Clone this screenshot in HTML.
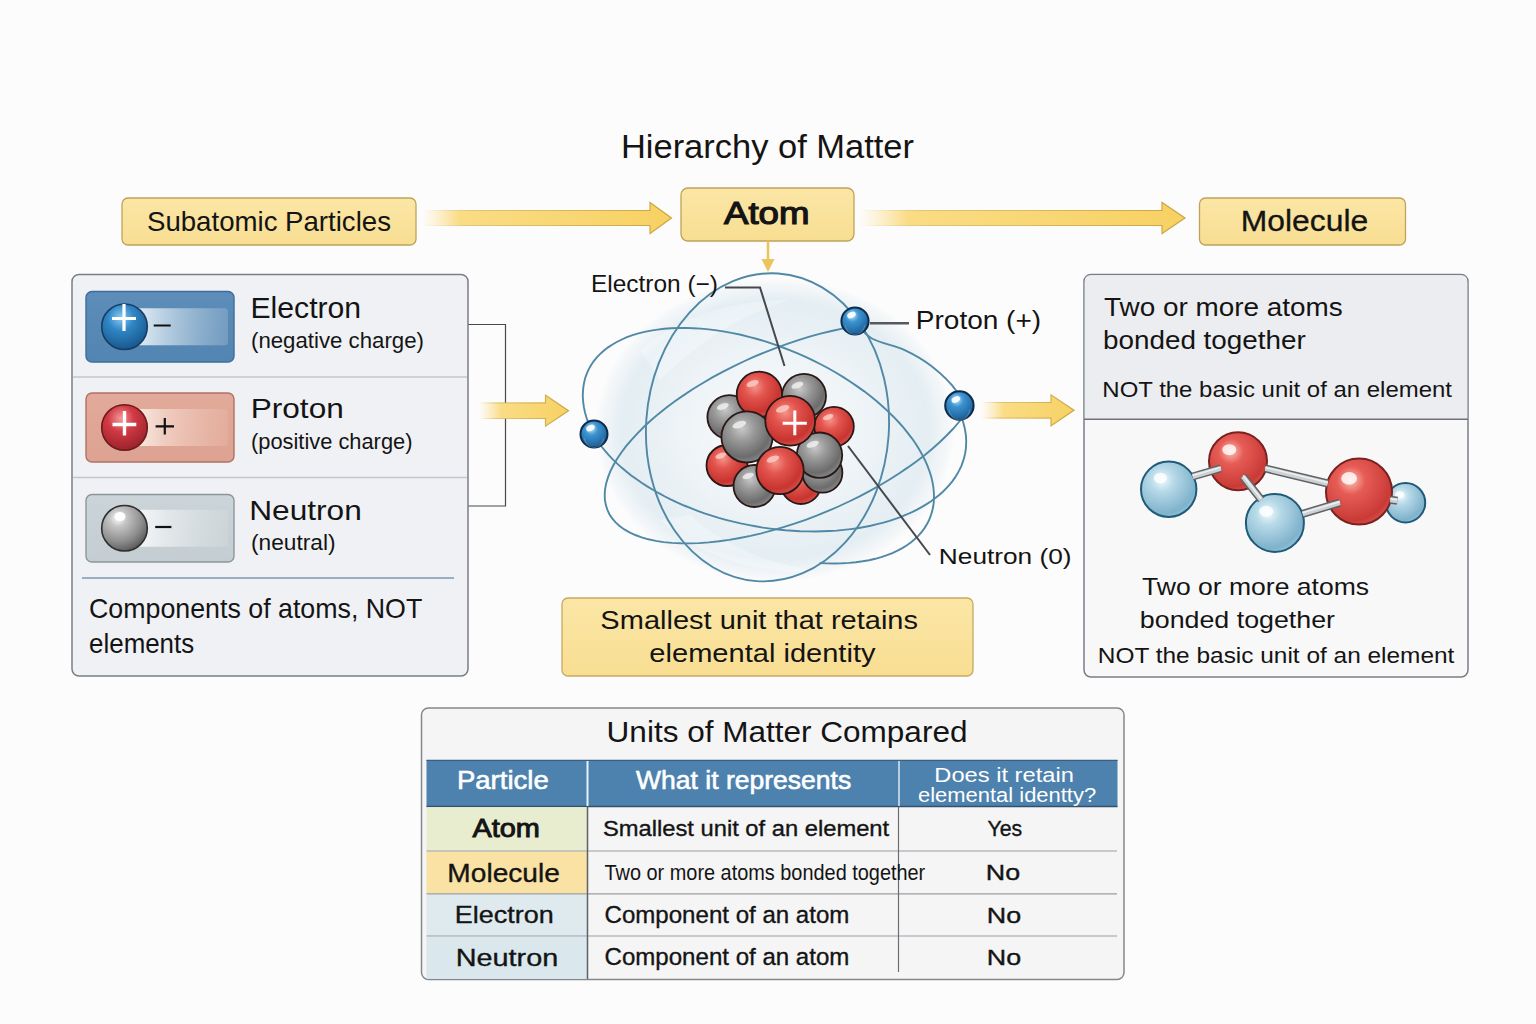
<!DOCTYPE html>
<html><head><meta charset='utf-8'><title>Hierarchy of Matter</title>
<style>html,body{margin:0;padding:0;background:#FDFCFC;overflow:hidden;width:1536px;height:1024px;} svg{display:block;}</style>
</head><body>
<svg width='1536' height='1024' viewBox='0 0 1536 1024' font-family="'Liberation Sans', sans-serif">
<defs>
 <linearGradient id='yel' x1='0' y1='0' x2='0' y2='1'><stop offset='0' stop-color='#FBE6A6'/><stop offset='1' stop-color='#F8DE92'/></linearGradient>
 <linearGradient id='arr' x1='0' y1='0' x2='1' y2='0'><stop offset='0' stop-color='#FBE3A0' stop-opacity='0'/><stop offset='0.15' stop-color='#FADC85' stop-opacity='1'/><stop offset='1' stop-color='#F7D163'/></linearGradient><linearGradient id='arr2' x1='0' y1='0' x2='1' y2='0'><stop offset='0' stop-color='#FBE3A0' stop-opacity='0'/><stop offset='0.25' stop-color='#FADC85' stop-opacity='1'/><stop offset='1' stop-color='#F7D163'/></linearGradient>
 <linearGradient id='arrS' x1='0' y1='0' x2='1' y2='0'><stop offset='0' stop-color='#D9B550' stop-opacity='0'/><stop offset='0.2' stop-color='#D9B550' stop-opacity='0.7'/><stop offset='1' stop-color='#C9A540'/></linearGradient>
 <linearGradient id='badgeB' x1='0' y1='0' x2='0' y2='1'><stop offset='0' stop-color='#5D8DB8'/><stop offset='1' stop-color='#5385B2'/></linearGradient>
 <linearGradient id='barB' x1='0' y1='0' x2='1' y2='0'><stop offset='0' stop-color='#F2F7FB' stop-opacity='0.95'/><stop offset='0.3' stop-color='#CFE0EC' stop-opacity='0.85'/><stop offset='1' stop-color='#9DBAD3' stop-opacity='0.4'/></linearGradient>
 <linearGradient id='badgeR' x1='0' y1='0' x2='0' y2='1'><stop offset='0' stop-color='#E2AA9A'/><stop offset='1' stop-color='#DDA291'/></linearGradient>
 <linearGradient id='barR' x1='0' y1='0' x2='1' y2='0'><stop offset='0' stop-color='#FCF2EC' stop-opacity='0.95'/><stop offset='0.35' stop-color='#F2D3C7' stop-opacity='0.85'/><stop offset='1' stop-color='#E9B8A8' stop-opacity='0.4'/></linearGradient>
 <linearGradient id='badgeG' x1='0' y1='0' x2='0' y2='1'><stop offset='0' stop-color='#CBD4D8'/><stop offset='1' stop-color='#C4CDD1'/></linearGradient>
 <linearGradient id='barG' x1='0' y1='0' x2='1' y2='0'><stop offset='0' stop-color='#FBFCFC' stop-opacity='0.95'/><stop offset='0.35' stop-color='#E8EDEF' stop-opacity='0.85'/><stop offset='1' stop-color='#D4DBDE' stop-opacity='0.4'/></linearGradient>
 <radialGradient id='ballB' cx='0.42' cy='0.3' r='0.72'><stop offset='0' stop-color='#8CCBF0'/><stop offset='0.4' stop-color='#2F86C4'/><stop offset='1' stop-color='#17568C'/></radialGradient>
 <radialGradient id='ballR' cx='0.42' cy='0.3' r='0.72'><stop offset='0' stop-color='#F49A9A'/><stop offset='0.4' stop-color='#D23A44'/><stop offset='1' stop-color='#98222A'/></radialGradient>
 <radialGradient id='ballG' cx='0.36' cy='0.28' r='0.75'><stop offset='0' stop-color='#FFFFFF'/><stop offset='0.25' stop-color='#C4C4C4'/><stop offset='0.7' stop-color='#8C8C8C'/><stop offset='1' stop-color='#5A5A5A'/></radialGradient>
 <radialGradient id='nR' cx='0.4' cy='0.33' r='0.7'><stop offset='0' stop-color='#F5938A'/><stop offset='0.35' stop-color='#E2544D'/><stop offset='0.8' stop-color='#C8342F'/><stop offset='1' stop-color='#D8544C'/></radialGradient>
 <radialGradient id='nG' cx='0.4' cy='0.33' r='0.7'><stop offset='0' stop-color='#C9C9C9'/><stop offset='0.35' stop-color='#9A9A9A'/><stop offset='0.8' stop-color='#6C6C6C'/><stop offset='1' stop-color='#8A8A8A'/></radialGradient>
 <radialGradient id='mB' cx='0.38' cy='0.33' r='0.72'><stop offset='0' stop-color='#F2FAFD'/><stop offset='0.3' stop-color='#B6D9E8'/><stop offset='0.85' stop-color='#7FB2CB'/><stop offset='1' stop-color='#93C2D8'/></radialGradient>
 <radialGradient id='mR' cx='0.38' cy='0.33' r='0.72'><stop offset='0' stop-color='#FAC0B6'/><stop offset='0.3' stop-color='#E65C55'/><stop offset='0.85' stop-color='#C93A36'/><stop offset='1' stop-color='#D9534D'/></radialGradient>
 <radialGradient id='eB' cx='0.4' cy='0.3' r='0.7'><stop offset='0' stop-color='#BFE6FA'/><stop offset='0.35' stop-color='#3C93D0'/><stop offset='1' stop-color='#1B5F98'/></radialGradient>
 <radialGradient id='sph' cx='0.5' cy='0.5' r='0.5'><stop offset='0' stop-color='#F1F6F9' stop-opacity='0.3'/><stop offset='0.5' stop-color='#E6EFF4' stop-opacity='0.65'/><stop offset='0.85' stop-color='#DFEBF1' stop-opacity='0.85'/><stop offset='0.97' stop-color='#DFEBF1' stop-opacity='0.25'/><stop offset='1' stop-color='#DFEBF1' stop-opacity='0'/></radialGradient>
</defs>
<rect width='1536' height='1024' fill='#FDFCFC'/>
<text x='620.91' y='158' font-size='33' font-weight='400' fill='#141414' textLength='293.08' lengthAdjust='spacingAndGlyphs' >Hierarchy of Matter</text>
<rect x='122' y='198' width='294' height='47' rx='6' fill='url(#yel)' stroke='#BFA358' stroke-width='1.3'/>
<text x='147.01' y='230.5' font-size='28' font-weight='400' fill='#141414' textLength='243.97' lengthAdjust='spacingAndGlyphs' >Subatomic Particles</text>
<rect x='681' y='188' width='173' height='53' rx='7' fill='url(#yel)' stroke='#BFA358' stroke-width='1.3'/>
<text x='724.00' y='224.4' font-size='31.5' font-weight='400' fill='#141414' textLength='85.44' lengthAdjust='spacingAndGlyphs' stroke='#141414' stroke-width='1.2'>Atom</text>
<rect x='1199.5' y='198' width='206' height='47' rx='6' fill='url(#yel)' stroke='#BFA358' stroke-width='1.3'/>
<text x='1240.80' y='231' font-size='29' font-weight='400' fill='#141414' textLength='127.44' lengthAdjust='spacingAndGlyphs' stroke='#141414' stroke-width='0.3'>Molecule</text>
<path d='M468,324.5 H505.5 V506 H468' fill='none' stroke='#46494E' stroke-width='1.2'/>
<path d='M422,210.5 L650,210.5 L650,202.5 L671.5,218 L650,233.5 L650,225.5 L422,225.5 Z' fill='url(#arr)' stroke='url(#arrS)' stroke-width='1.2' stroke-linejoin='miter'/>
<path d='M859,210.5 L1162,210.5 L1162,202.5 L1185,218 L1162,233.5 L1162,225.5 L859,225.5 Z' fill='url(#arr)' stroke='url(#arrS)' stroke-width='1.2' stroke-linejoin='miter'/>
<path d='M479,402.9 L545.5,402.9 L545.5,395.2 L568.5,410.7 L545.5,426.2 L545.5,418.5 L479,418.5 Z' fill='url(#arr2)' stroke='url(#arrS)' stroke-width='1.2' stroke-linejoin='miter'/>
<path d='M981,402.5 L1051,402.5 L1051,394.8 L1074,410.3 L1051,425.8 L1051,418.1 L981,418.1 Z' fill='url(#arr2)' stroke='url(#arrS)' stroke-width='1.2' stroke-linejoin='miter'/>
<line x1='768' y1='241' x2='768' y2='262' stroke='#EBC55A' stroke-width='2.5'/>
<path d='M761.5,259 L774.5,259 L768,272 Z' fill='#EBC55A'/>
<rect x='72' y='274.5' width='396' height='401.5' rx='7' fill='#F0F1F4' stroke='#7A7E85' stroke-width='1.5'/>
<line x1='73' y1='377' x2='467' y2='377' stroke='#C3C7CE' stroke-width='1.5'/>
<line x1='73' y1='477.5' x2='467' y2='477.5' stroke='#C3C7CE' stroke-width='1.5'/>
<line x1='82' y1='578' x2='454' y2='578' stroke='#98AEC4' stroke-width='2'/>
<rect x='86' y='291.5' width='148' height='70.5' rx='6' fill='url(#badgeB)' stroke='#3E6D98' stroke-width='1.4'/>
<rect x='132' y='308.25' width='96' height='37' rx='3' fill='url(#barB)'/>
<circle cx='124.5' cy='326.75' r='22.8' fill='url(#ballB)' stroke='#163E66' stroke-width='1.6'/>
<rect x='86' y='393' width='148' height='69' rx='6' fill='url(#badgeR)' stroke='#AF7263' stroke-width='1.4'/>
<rect x='132' y='409.0' width='96' height='37' rx='3' fill='url(#barR)'/>
<circle cx='124.5' cy='427.5' r='22.8' fill='url(#ballR)' stroke='#6E1A1E' stroke-width='1.6'/>
<rect x='86' y='494.5' width='148' height='67.5' rx='6' fill='url(#badgeG)' stroke='#8C979B' stroke-width='1.4'/>
<rect x='132' y='509.75' width='96' height='37' rx='3' fill='url(#barG)'/>
<circle cx='124.5' cy='528.25' r='22.8' fill='url(#ballG)' stroke='#2E2E2E' stroke-width='1.6'/>
<path d='M124,304 V331 M112,318.5 H136' stroke='#FFFFFF' stroke-width='3.2'/>
<path d='M124.5,411 V435.5 M112.5,424.5 H136.3' stroke='#FFFFFF' stroke-width='3.4'/>
<ellipse cx='120' cy='516.5' rx='5.5' ry='4.5' fill='#FFFFFF' opacity='0.95'/>
<line x1='153.7' y1='325.5' x2='170.7' y2='325.5' stroke='#111' stroke-width='2'/>
<path d='M164.8,418 V434.6 M155.6,426.3 H174' stroke='#111' stroke-width='2.2'/>
<line x1='155.2' y1='527' x2='171.4' y2='527' stroke='#111' stroke-width='2.2'/>
<text x='250.42' y='318' font-size='29' font-weight='400' fill='#141414' textLength='110.76' lengthAdjust='spacingAndGlyphs' >Electron</text>
<text x='251.01' y='348' font-size='22.5' font-weight='400' fill='#141414' textLength='172.97' lengthAdjust='spacingAndGlyphs' >(negative charge)</text>
<text x='250.74' y='418' font-size='28' font-weight='400' fill='#141414' textLength='93.03' lengthAdjust='spacingAndGlyphs' >Proton</text>
<text x='251.03' y='449' font-size='22.5' font-weight='400' fill='#141414' textLength='161.45' lengthAdjust='spacingAndGlyphs' >(positive charge)</text>
<text x='249.24' y='520' font-size='28' font-weight='400' fill='#141414' textLength='112.54' lengthAdjust='spacingAndGlyphs' >Neutron</text>
<text x='250.99' y='550' font-size='22.5' font-weight='400' fill='#141414' textLength='84.51' lengthAdjust='spacingAndGlyphs' >(neutral)</text>
<text x='89.03' y='617.5' font-size='27.5' font-weight='400' fill='#141414' textLength='333.28' lengthAdjust='spacingAndGlyphs' >Components of atoms, NOT</text>
<text x='89.06' y='653' font-size='27.5' font-weight='400' fill='#141414' textLength='105.15' lengthAdjust='spacingAndGlyphs' >elements</text>
<rect x='1084' y='274.5' width='384' height='402.5' rx='7' fill='#F8F8F9' stroke='#7A7E85' stroke-width='1.5'/>
<path d='M1084.75,419 V281.5 Q1084.75,275.25 1091,275.25 H1461 Q1467.25,275.25 1467.25,281.5 V419 Z' fill='#ECEDF1'/>
<line x1='1084' y1='419.2' x2='1468' y2='419.2' stroke='#6F7279' stroke-width='1.4'/>
<text x='1104.00' y='316' font-size='26.5' font-weight='400' fill='#141414' textLength='238.76' lengthAdjust='spacingAndGlyphs' >Two or more atoms</text>
<text x='1102.95' y='349' font-size='26.5' font-weight='400' fill='#141414' textLength='202.87' lengthAdjust='spacingAndGlyphs' >bonded together</text>
<text x='1102.39' y='396.5' font-size='21.5' font-weight='400' fill='#141414' textLength='349.58' lengthAdjust='spacingAndGlyphs' >NOT the basic unit of an element</text>
<text x='1142.00' y='594.6' font-size='24' font-weight='400' fill='#141414' textLength='227.00' lengthAdjust='spacingAndGlyphs' >Two or more atoms</text>
<text x='1139.88' y='628.3' font-size='24' font-weight='400' fill='#141414' textLength='195.11' lengthAdjust='spacingAndGlyphs' >bonded together</text>
<text x='1097.85' y='662.6' font-size='21.3' font-weight='400' fill='#141414' textLength='356.55' lengthAdjust='spacingAndGlyphs' >NOT the basic unit of an element</text>
<circle cx='1405.5' cy='502.7' r='19.7' fill='url(#mB)' stroke='#1F5A78' stroke-width='2'/><ellipse cx='1399.6' cy='494.8' rx='4.7' ry='3.7' fill='#fff' opacity='0.8'/>
<circle cx='1168.7' cy='489.2' r='27.7' fill='url(#mB)' stroke='#1F5A78' stroke-width='2'/><ellipse cx='1160.4' cy='478.1' rx='6.6' ry='5.3' fill='#fff' opacity='0.8'/>
<circle cx='1238' cy='461.3' r='29' fill='url(#mR)' stroke='#7A2222' stroke-width='2'/><ellipse cx='1229.3' cy='449.7' rx='7.0' ry='5.5' fill='#fff' opacity='0.8'/>
<circle cx='1274.9' cy='522.9' r='29' fill='url(#mB)' stroke='#1F5A78' stroke-width='2'/><ellipse cx='1266.2' cy='511.3' rx='7.0' ry='5.5' fill='#fff' opacity='0.8'/>
<circle cx='1359' cy='491.6' r='33' fill='url(#mR)' stroke='#7A2222' stroke-width='2'/><ellipse cx='1349.1' cy='478.4' rx='7.9' ry='6.3' fill='#fff' opacity='0.8'/>
<line x1='1192.6' y1='476.5' x2='1220.8' y2='468.4' stroke='#5E6367' stroke-width='8' stroke-linecap='butt'/><line x1='1192.6' y1='476.5' x2='1220.8' y2='468.4' stroke='#CDD1D4' stroke-width='5' stroke-linecap='butt'/><line x1='1192.6' y1='475.5' x2='1220.8' y2='467.4' stroke='#EEF0F1' stroke-width='1.5'/>
<line x1='1265.2' y1='468.4' x2='1327.8' y2='483.5' stroke='#5E6367' stroke-width='8' stroke-linecap='butt'/><line x1='1265.2' y1='468.4' x2='1327.8' y2='483.5' stroke='#CDD1D4' stroke-width='5' stroke-linecap='butt'/><line x1='1265.2' y1='467.4' x2='1327.8' y2='482.5' stroke='#EEF0F1' stroke-width='1.5'/>
<line x1='1243' y1='476.5' x2='1261.2' y2='499.7' stroke='#5E6367' stroke-width='8' stroke-linecap='butt'/><line x1='1243' y1='476.5' x2='1261.2' y2='499.7' stroke='#CDD1D4' stroke-width='5' stroke-linecap='butt'/><line x1='1243' y1='475.5' x2='1261.2' y2='498.7' stroke='#EEF0F1' stroke-width='1.5'/>
<line x1='1302.6' y1='513.8' x2='1339.9' y2='502.7' stroke='#5E6367' stroke-width='8' stroke-linecap='butt'/><line x1='1302.6' y1='513.8' x2='1339.9' y2='502.7' stroke='#CDD1D4' stroke-width='5' stroke-linecap='butt'/><line x1='1302.6' y1='512.8' x2='1339.9' y2='501.7' stroke='#EEF0F1' stroke-width='1.5'/>
<line x1='1390.3' y1='499.7' x2='1397.4' y2='500.7' stroke='#5E6367' stroke-width='8' stroke-linecap='butt'/><line x1='1390.3' y1='499.7' x2='1397.4' y2='500.7' stroke='#CDD1D4' stroke-width='5' stroke-linecap='butt'/><line x1='1390.3' y1='498.7' x2='1397.4' y2='499.7' stroke='#EEF0F1' stroke-width='1.5'/>
<ellipse cx='775' cy='430' rx='180' ry='152' fill='url(#sph)'/>
<path d='M640,350 Q700,300 790,300 Q720,320 660,380 Z' fill='#FFFFFF' opacity='0.3'/>
<path d='M660,520 Q720,575 820,572 Q740,560 690,515 Z' fill='#FFFFFF' opacity='0.3'/>
<ellipse cx='767.5' cy='427.3' rx='121.4' ry='154.2' transform='rotate(4.01 767.5 427.3)' fill='none' stroke='#5088A6' stroke-width='1.9'/>
<path d='M852.9,326.7 L842.3,328.6 L831.5,331.0 L820.5,333.7 L809.5,336.7 L798.4,340.1 L787.3,343.8 L776.3,347.8 L765.3,352.1 L754.3,356.7 L743.6,361.5 L733.0,366.6 L722.6,371.9 L712.4,377.4 L702.5,383.2 L693.0,389.0 L683.8,395.1 L674.9,401.2 L666.5,407.5 L658.5,413.9 L651.0,420.3 L644.0,426.8 L637.5,433.3 L631.5,439.8 L626.1,446.2 L621.2,452.7 L617.0,459.0 L613.4,465.3 L610.3,471.4 L608.0,477.4 L606.2,483.3 L605.1,489.0 L604.7,494.5 L604.9,499.8 L605.8,504.8 L607.3,509.6 L609.4,514.2 L612.2,518.4 L615.6,522.4 L619.6,526.0 L624.3,529.4 L629.5,532.4 L635.3,535.0 L641.6,537.3 L648.4,539.3 L655.8,540.9 L663.6,542.1 L671.9,542.9 L680.6,543.3 L689.6,543.4 L699.1,543.1 L708.9,542.4 L718.9,541.3 L729.2,539.9 L739.8,538.0 L750.5,535.9 L761.4,533.3 L772.3,530.4 L783.4,527.2 L794.5,523.7 L805.6,519.8 L816.6,515.7 L827.6,511.2 L838.4,506.5 L849.1,501.5 L859.6,496.3 L869.9,490.9 L879.9,485.3 L889.6,479.5 L899.0,473.5 L908.0,467.4 L916.7,461.2 L924.9,454.9 L932.6,448.5 L939.9,442.0 L946.6,435.5 L952.9,429.0 L958.5,422.5 L963.7,416.1 L968.2,409.7 L972.1,403.4' fill='none' stroke='#5088A6' stroke-width='1.9'/>
<path d='M855.5,322.0 C858.2,324.8 863.7,333.8 871.9,338.5 C880.1,343.2 894.7,345.5 904.7,350.2 C914.7,354.9 923.4,359.8 932.0,366.6 C940.6,373.4 952.0,384.7 956.6,391.2 C961.2,397.7 958.9,403.1 959.4,405.5' fill='none' stroke='#5088A6' stroke-width='1.9'/>
<path d='M593.1,434.1 L595.8,438.4 L598.7,442.7 L601.9,447.0 L605.3,451.2 L609.0,455.4 L613.0,459.6 L617.2,463.6 L621.6,467.6 L626.3,471.5 L631.2,475.4 L636.3,479.1 L641.6,482.8 L647.2,486.4 L652.9,489.8 L658.8,493.2 L664.9,496.5 L671.1,499.6 L677.5,502.6 L684.1,505.5 L690.8,508.2 L697.6,510.8 L704.5,513.3 L711.6,515.6 L718.7,517.8 L725.9,519.8 L733.2,521.7 L740.6,523.4 L748.0,524.9 L755.4,526.3 L762.9,527.6 L770.4,528.6 L777.9,529.5 L785.4,530.3 L792.9,530.8 L800.3,531.2 L807.7,531.4 L815.1,531.5 L822.4,531.3 L829.6,531.0 L836.7,530.6 L843.7,529.9 L850.7,529.1 L857.5,528.2 L864.2,527.0 L870.7,525.7 L877.1,524.2 L883.4,522.6 L889.5,520.8 L895.4,518.9 L901.1,516.8 L906.6,514.5 L912.0,512.1 L917.1,509.6 L922.0,506.9 L926.6,504.1 L931.1,501.2 L935.3,498.1 L939.2,495.0 L942.9,491.7 L946.4,488.2 L949.6,484.7 L952.5,481.1 L955.1,477.4 L957.5,473.6 L959.6,469.7 L961.4,465.8 L962.9,461.7 L964.2,457.6 L965.1,453.5 L965.8,449.3 L966.1,445.0 L966.2,440.7 L966.0,436.4 L965.4,432.0 L964.6,427.7 L963.5,423.3 L962.1,418.9 L960.5,414.5 L958.5,410.1 L956.3,405.7' fill='none' stroke='#5088A6' stroke-width='1.9'/>
<path d='M593.2,433.9 L590.6,428.5 L588.4,423.1 L586.5,417.7 L585.0,412.4 L583.9,407.2 L583.2,402.1 L582.8,397.0 L582.9,392.1 L583.3,387.3 L584.1,382.6 L585.2,378.0 L586.8,373.6 L588.7,369.4 L591.0,365.3 L593.6,361.3 L596.6,357.6 L600.0,354.1 L603.7,350.7 L607.7,347.6 L612.1,344.7 L616.8,342.0 L621.8,339.5 L627.0,337.2 L632.6,335.2 L638.4,333.4 L644.5,331.9 L650.9,330.6 L657.5,329.6 L664.2,328.8 L671.2,328.2 L678.4,328.0 L685.8,327.9 L693.3,328.2 L701.0,328.6 L708.8,329.4 L716.6,330.4 L724.6,331.6 L732.7,333.1 L740.8,334.8 L748.9,336.8 L757.1,339.0 L765.3,341.4 L773.4,344.1 L781.6,347.0 L789.6,350.1 L797.6,353.4 L805.6,356.9 L813.4,360.6 L821.1,364.5 L828.7,368.5 L836.1,372.8 L843.3,377.1 L850.4,381.7 L857.2,386.4 L863.9,391.1 L870.3,396.1 L876.5,401.1 L882.4,406.2 L888.0,411.4 L893.4,416.7 L898.5,422.0 L903.3,427.4 L907.7,432.9 L911.9,438.3 L915.7,443.8 L919.1,449.3 L922.2,454.8 L925.0,460.2 L927.4,465.6 L929.4,471.0 L931.1,476.3 L932.4,481.6 L933.3,486.8 L933.8,491.9 L934.0,496.9 L933.8,501.8 L933.2,506.5 L932.2,511.1 L930.8,515.6 L929.1,520.0 L927.0,524.1 L924.5,528.1 L921.7,532.0 L918.5,535.6 L914.9,539.0 L911.1,542.3 L906.9,545.3 L902.3,548.1 L897.5,550.7 L892.4,553.1 L887.0,555.2 L881.2,557.1 L875.3,558.8 L869.0,560.2 L862.6,561.3 L855.9,562.2 L849.0,562.9 L841.9,563.3 L834.6,563.5 L827.2,563.4 L819.6,563.0' fill='none' stroke='#5088A6' stroke-width='1.9'/>
<path d='M725,287.5 H760 L784.5,366' fill='none' stroke='#45484D' stroke-width='2'/>
<line x1='870' y1='323.3' x2='909' y2='323.3' stroke='#55585D' stroke-width='2.4'/>
<line x1='848' y1='446' x2='930' y2='555' stroke='#45484D' stroke-width='2'/>
<circle cx='801' cy='484' r='20' fill='url(#nR)' stroke='#2A1818' stroke-width='1.8'/><ellipse cx='795.0' cy='474.4' rx='5.6' ry='2.6' transform='rotate(-20 795.0 474.4)' fill='#FBD0C8' opacity='0.8'/>
<circle cx='822.4' cy='472.7' r='20' fill='url(#nG)' stroke='#2A1818' stroke-width='1.8'/><ellipse cx='816.4' cy='463.1' rx='5.6' ry='2.6' transform='rotate(-20 816.4 463.1)' fill='#F2F2F2' opacity='0.8'/>
<circle cx='729.4' cy='417.1' r='22' fill='url(#nG)' stroke='#2A1818' stroke-width='1.8'/><ellipse cx='722.8' cy='406.5' rx='6.2' ry='2.9' transform='rotate(-20 722.8 406.5)' fill='#F2F2F2' opacity='0.8'/>
<circle cx='759.4' cy='394.4' r='22.7' fill='url(#nR)' stroke='#2A1818' stroke-width='1.8'/><ellipse cx='752.6' cy='383.5' rx='6.4' ry='3.0' transform='rotate(-20 752.6 383.5)' fill='#FBD0C8' opacity='0.8'/>
<circle cx='804' cy='395.9' r='22' fill='url(#nG)' stroke='#2A1818' stroke-width='1.8'/><ellipse cx='797.4' cy='385.3' rx='6.2' ry='2.9' transform='rotate(-20 797.4 385.3)' fill='#F2F2F2' opacity='0.8'/>
<circle cx='834' cy='426.6' r='19.8' fill='url(#nR)' stroke='#2A1818' stroke-width='1.8'/><ellipse cx='828.1' cy='417.1' rx='5.5' ry='2.6' transform='rotate(-20 828.1 417.1)' fill='#FBD0C8' opacity='0.8'/>
<circle cx='727' cy='465.5' r='20.5' fill='url(#nR)' stroke='#2A1818' stroke-width='1.8'/><ellipse cx='720.9' cy='455.7' rx='5.7' ry='2.7' transform='rotate(-20 720.9 455.7)' fill='#FBD0C8' opacity='0.8'/>
<circle cx='754.5' cy='486' r='21' fill='url(#nG)' stroke='#2A1818' stroke-width='1.8'/><ellipse cx='748.2' cy='475.9' rx='5.9' ry='2.7' transform='rotate(-20 748.2 475.9)' fill='#F2F2F2' opacity='0.8'/>
<circle cx='819.5' cy='455.2' r='22.7' fill='url(#nG)' stroke='#2A1818' stroke-width='1.8'/><ellipse cx='812.7' cy='444.3' rx='6.4' ry='3.0' transform='rotate(-20 812.7 444.3)' fill='#F2F2F2' opacity='0.8'/>
<circle cx='747' cy='436.9' r='25.6' fill='url(#nG)' stroke='#2A1818' stroke-width='1.8'/><ellipse cx='739.3' cy='424.6' rx='7.2' ry='3.3' transform='rotate(-20 739.3 424.6)' fill='#F2F2F2' opacity='0.8'/>
<circle cx='790.2' cy='420.8' r='24.9' fill='url(#nR)' stroke='#2A1818' stroke-width='1.8'/><ellipse cx='782.7' cy='408.8' rx='7.0' ry='3.2' transform='rotate(-20 782.7 408.8)' fill='#FBD0C8' opacity='0.8'/>
<circle cx='780' cy='470.5' r='23.7' fill='url(#nR)' stroke='#2A1818' stroke-width='1.8'/><ellipse cx='772.9' cy='459.1' rx='6.6' ry='3.1' transform='rotate(-20 772.9 459.1)' fill='#FBD0C8' opacity='0.8'/>
<path d='M794.8,410.5 V435.2 M782.7,423.2 H806.8' stroke='#FFFFFF' stroke-width='3'/>
<circle cx='855' cy='321' r='13.6' fill='url(#eB)' stroke='#0D2B4A' stroke-width='2'/><path d='M845.4,325 A9.6,9.6 0 0 0 864.6,325' fill='none' stroke='#7FC0E6' stroke-width='1.2' opacity='0.35'/><ellipse cx='851.5' cy='315' rx='4.5' ry='3' transform='rotate(-25 851.5 315)' fill='#fff' opacity='0.9'/>
<circle cx='959.4' cy='405.5' r='14.2' fill='url(#eB)' stroke='#0D2B4A' stroke-width='2'/><path d='M949.1999999999999,409.5 A10.2,10.2 0 0 0 969.6,409.5' fill='none' stroke='#7FC0E6' stroke-width='1.2' opacity='0.35'/><ellipse cx='955.9' cy='399.5' rx='4.5' ry='3' transform='rotate(-25 955.9 399.5)' fill='#fff' opacity='0.9'/>
<circle cx='594' cy='434' r='13.5' fill='url(#eB)' stroke='#0D2B4A' stroke-width='2'/><path d='M584.5,438 A9.5,9.5 0 0 0 603.5,438' fill='none' stroke='#7FC0E6' stroke-width='1.2' opacity='0.35'/><ellipse cx='590.5' cy='428' rx='4.5' ry='3' transform='rotate(-25 590.5 428)' fill='#fff' opacity='0.9'/>
<text x='590.98' y='292.2' font-size='24' font-weight='400' fill='#141414' textLength='127.03' lengthAdjust='spacingAndGlyphs' >Electron (−)</text>
<text x='915.80' y='329.4' font-size='25.5' font-weight='400' fill='#141414' textLength='125.34' lengthAdjust='spacingAndGlyphs' >Proton (+)</text>
<text x='938.83' y='563.5' font-size='22.5' font-weight='400' fill='#141414' textLength='132.74' lengthAdjust='spacingAndGlyphs' >Neutron (0)</text>
<rect x='562' y='598' width='411' height='78' rx='6' fill='url(#yel)' stroke='#C6AA60' stroke-width='1.3'/>
<text x='600.38' y='629.3' font-size='26' font-weight='400' fill='#141414' textLength='317.62' lengthAdjust='spacingAndGlyphs' >Smallest unit that retains</text>
<text x='649.38' y='661.6' font-size='26' font-weight='400' fill='#141414' textLength='226.12' lengthAdjust='spacingAndGlyphs' >elemental identity</text>
<rect x='421.5' y='708' width='702.5' height='271.5' rx='7' fill='#F5F5F6' stroke='#84878C' stroke-width='1.5'/>
<text x='606.60' y='742.2' font-size='30' font-weight='400' fill='#141414' textLength='360.87' lengthAdjust='spacingAndGlyphs' >Units of Matter Compared</text>
<rect x='426.5' y='760' width='691' height='46.5' fill='#4E82AE'/>
<line x1='426.5' y1='760.3' x2='1117.5' y2='760.3' stroke='#3C5F80' stroke-width='1.2'/>
<line x1='426.5' y1='806.5' x2='1117.5' y2='806.5' stroke='#34506A' stroke-width='1.5'/>
<line x1='587.5' y1='761' x2='587.5' y2='806' stroke='#E4F2FA' stroke-width='2'/>
<line x1='899' y1='761' x2='899' y2='806' stroke='#D8E8F2' stroke-width='1.5'/>
<rect x='426.5' y='807.2' width='160.5' height='43.6' fill='#E8EDD0'/>
<rect x='426.5' y='851.6' width='160.5' height='42' fill='#F9E2A4'/>
<rect x='426.5' y='894.4' width='160.5' height='41.6' fill='#DEEAEE'/>
<rect x='426.5' y='936.8' width='160.5' height='42' fill='#DAE8EE'/>
<line x1='426.5' y1='851' x2='1117' y2='851' stroke='#9A9DA2' stroke-width='1.2'/>
<line x1='426.5' y1='893.9' x2='1117' y2='893.9' stroke='#9A9DA2' stroke-width='1.2'/>
<line x1='426.5' y1='936' x2='1117' y2='936' stroke='#9A9DA2' stroke-width='1.2'/>
<line x1='587.5' y1='807' x2='587.5' y2='979' stroke='#5E6166' stroke-width='1.5'/>
<line x1='898.5' y1='807' x2='898.5' y2='972' stroke='#6A6D72' stroke-width='1.2'/>
<text x='456.92' y='789' font-size='26.5' font-weight='400' fill='#FFFFFF' textLength='91.85' lengthAdjust='spacingAndGlyphs' stroke='#FFFFFF' stroke-width='0.6'>Particle</text>
<text x='636.00' y='789' font-size='26.5' font-weight='400' fill='#FFFFFF' textLength='215.25' lengthAdjust='spacingAndGlyphs' stroke='#FFFFFF' stroke-width='0.6'>What it represents</text>
<text x='934.32' y='781.9' font-size='20' font-weight='400' fill='#FFFFFF' textLength='139.51' lengthAdjust='spacingAndGlyphs' >Does it retain</text>
<text x='918.00' y='802.4' font-size='20' font-weight='400' fill='#FFFFFF' textLength='178.14' lengthAdjust='spacingAndGlyphs' >elemental identty?</text>
<text x='472.50' y='837' font-size='25' font-weight='400' fill='#141414' textLength='67.45' lengthAdjust='spacingAndGlyphs' stroke='#141414' stroke-width='0.9'>Atom</text>
<text x='602.94' y='836' font-size='22.3' font-weight='400' fill='#141414' textLength='286.21' lengthAdjust='spacingAndGlyphs' stroke='#141414' stroke-width='0.35'>Smallest unit of an element</text>
<text x='987.50' y='836.1' font-size='21.5' font-weight='400' fill='#141414' textLength='34.74' lengthAdjust='spacingAndGlyphs' stroke='#141414' stroke-width='0.35'>Yes</text>
<text x='447.38' y='881.7' font-size='26.5' font-weight='400' fill='#141414' textLength='112.40' lengthAdjust='spacingAndGlyphs' stroke='#141414' stroke-width='0.35'>Molecule</text>
<text x='604.50' y='880.3' font-size='21.8' font-weight='400' fill='#141414' textLength='320.74' lengthAdjust='spacingAndGlyphs' >Two or more atoms bonded together</text>
<text x='985.77' y='880.3' font-size='21.8' font-weight='400' fill='#141414' textLength='34.39' lengthAdjust='spacingAndGlyphs' stroke='#141414' stroke-width='0.35'>No</text>
<text x='454.80' y='923.2' font-size='24.5' font-weight='400' fill='#141414' textLength='98.89' lengthAdjust='spacingAndGlyphs' stroke='#141414' stroke-width='0.35'>Electron</text>
<text x='604.52' y='923.2' font-size='24.5' font-weight='400' fill='#141414' textLength='244.87' lengthAdjust='spacingAndGlyphs' stroke='#141414' stroke-width='0.35'>Component of an atom</text>
<text x='986.77' y='922.5' font-size='21.8' font-weight='400' fill='#141414' textLength='34.39' lengthAdjust='spacingAndGlyphs' stroke='#141414' stroke-width='0.35'>No</text>
<text x='455.65' y='965.8' font-size='24.5' font-weight='400' fill='#141414' textLength='102.59' lengthAdjust='spacingAndGlyphs' stroke='#141414' stroke-width='0.35'>Neutron</text>
<text x='604.52' y='965.4' font-size='24.5' font-weight='400' fill='#141414' textLength='244.87' lengthAdjust='spacingAndGlyphs' stroke='#141414' stroke-width='0.35'>Component of an atom</text>
<text x='986.77' y='965.4' font-size='21.8' font-weight='400' fill='#141414' textLength='34.39' lengthAdjust='spacingAndGlyphs' stroke='#141414' stroke-width='0.35'>No</text>
</svg>
</body></html>
